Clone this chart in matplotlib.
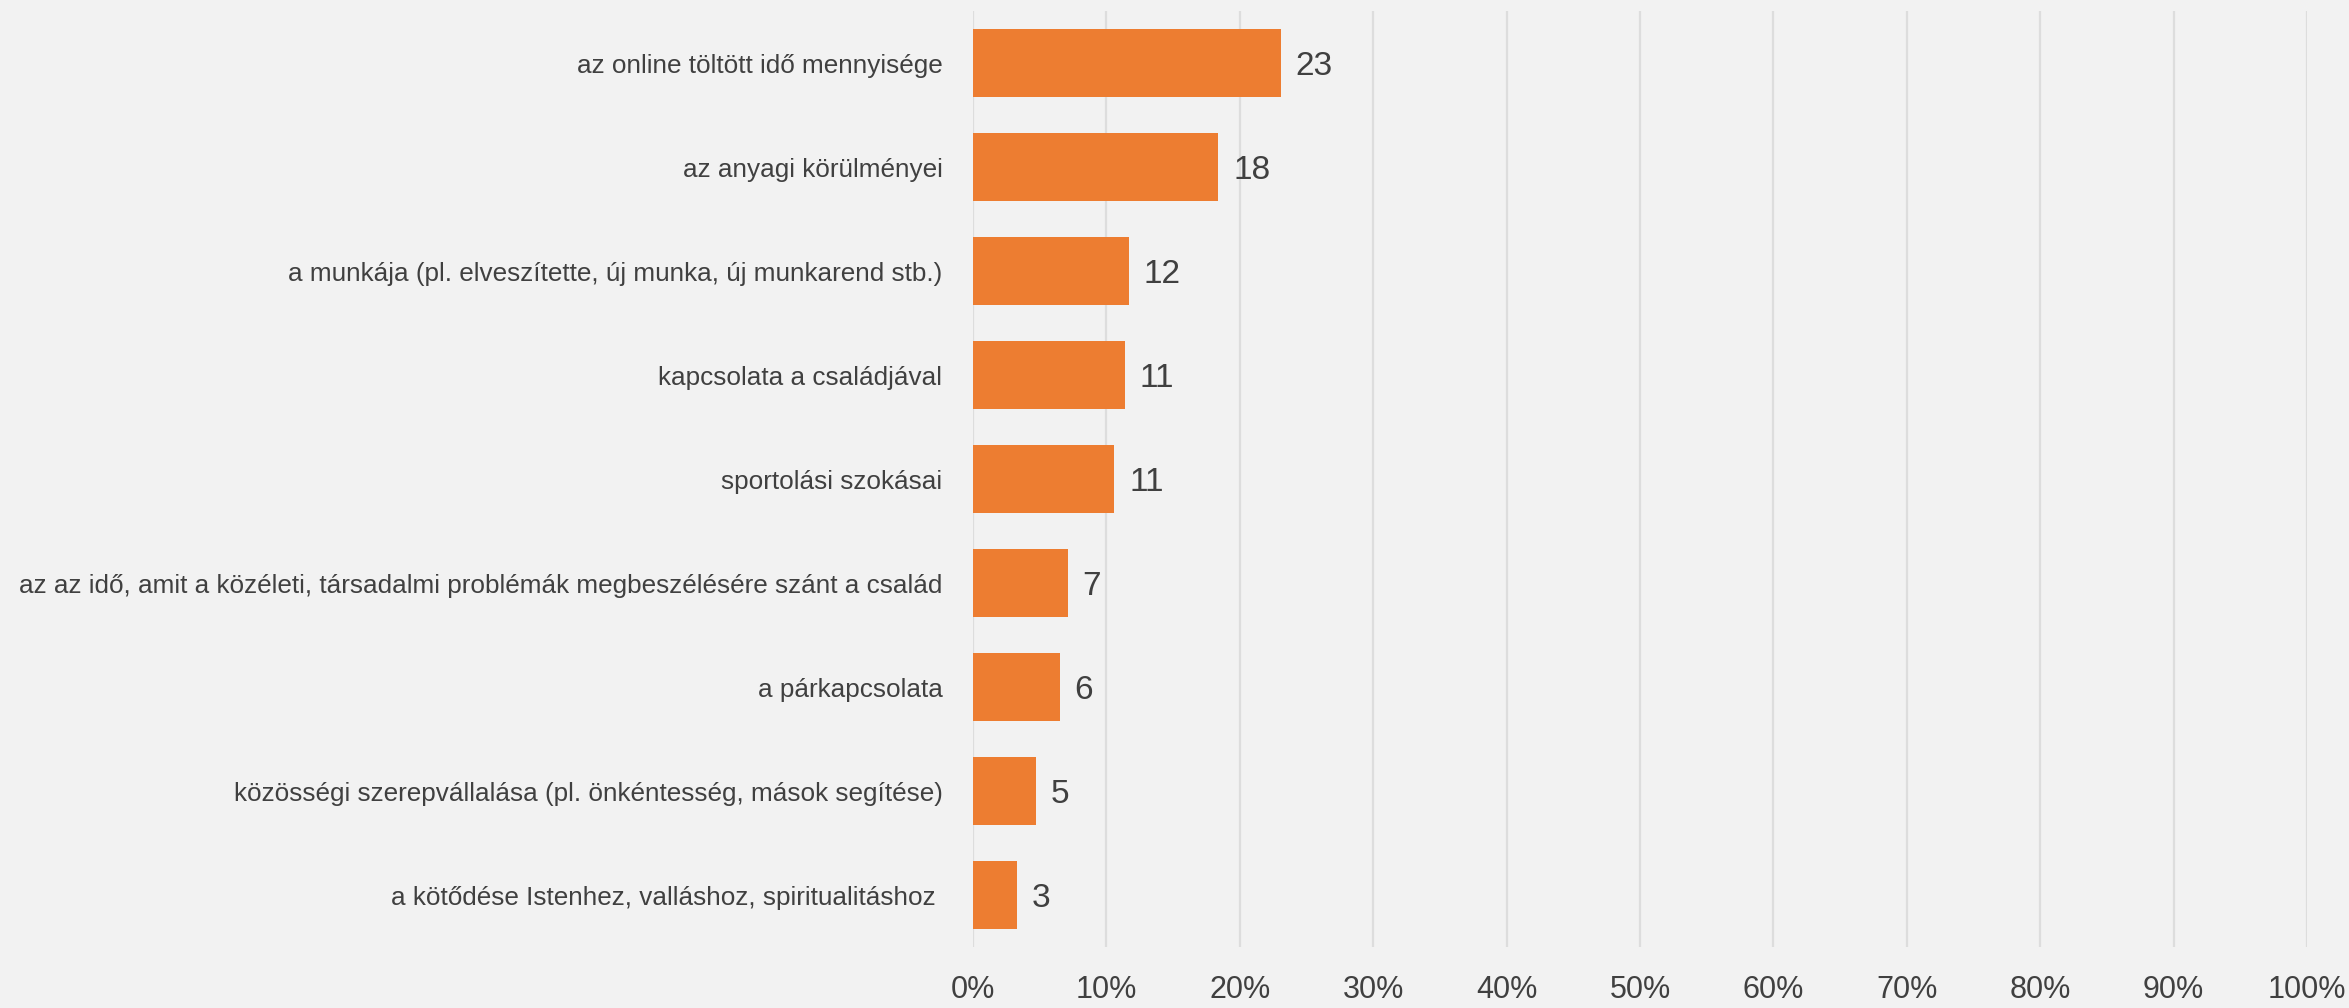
import matplotlib
matplotlib.use("Agg")
import matplotlib.pyplot as plt
from matplotlib.ticker import FuncFormatter

plt.rcParams["font.family"] = ["Liberation Sans Narrow", "Liberation Sans", "DejaVu Sans"]

# adatok (felülről lefelé)
categories = [
    "az online töltött idő mennyisége",
    "az anyagi körülményei",
    "a munkája (pl. elveszítette, új munka, új munkarend stb.)",
    "kapcsolata a családjával",
    "sportolási szokásai",
    "az az idő, amit a közéleti, társadalmi problémák megbeszélésére szánt a család",
    "a párkapcsolata",
    "közösségi szerepvállalása (pl. önkéntesség, mások segítése)",
    "a kötődése Istenhez, valláshoz, spiritualitáshoz ",
]
values = [23.1, 18.4, 11.7, 11.4, 10.6, 7.1, 6.5, 4.7, 3.3]
value_labels = ["23", "18", "12", "11", "11", "7", "6", "5", "3"]
x_ticks = [0, 10, 20, 30, 40, 50, 60, 70, 80, 90, 100]

bg = "#F2F2F2"
bar_color = "#ED7D31"
text_color = "#404040"

fig = plt.figure(figsize=(23.49, 10.08), dpi=100, facecolor=bg)
ax = fig.add_axes([0.4142, 0.0605, 0.5679, 0.9285], facecolor=bg)

y = list(range(len(categories)))
ax.barh(y, values, height=0.66, color=bar_color, zorder=3)

# értékcímkék a sávok végén
for yi, v, lab in zip(y, values, value_labels):
    ax.text(v + 1.1, yi, lab, va="center_baseline", ha="left", fontsize=24, color=text_color)

ax.set_xlim(0, 100)
ax.set_ylim(len(categories) - 0.5, -0.5)
ax.set_xticks(x_ticks)
ax.xaxis.set_major_formatter(FuncFormatter(lambda v, p: f"{int(v)}%"))
ax.set_yticks(y)
ax.set_yticklabels(categories)

ax.tick_params(axis="x", length=0, labelsize=22, colors=text_color, pad=20)
ax.tick_params(axis="y", length=0, labelsize=18.8, colors=text_color, pad=22)

ax.grid(axis="x", color="#DDDDDD", linewidth=1.6, zorder=0)
for s in ax.spines.values():
    s.set_visible(False)

plt.savefig("out.png", dpi=100, facecolor=bg)
